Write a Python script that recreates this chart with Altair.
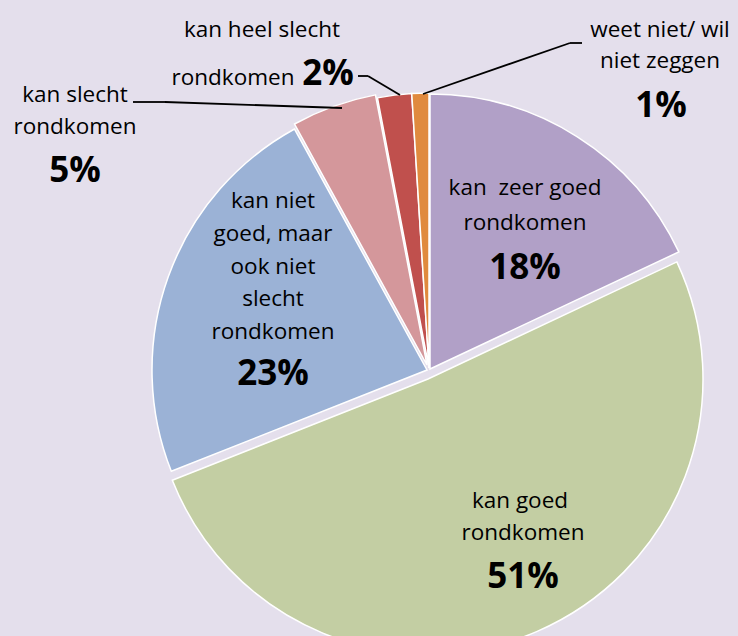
import altair as alt
import pandas as pd

# ---- data ----
categories = [
    "kan zeer goed rondkomen",
    "kan goed rondkomen",
    "kan niet goed, maar ook niet slecht rondkomen",
    "kan slecht rondkomen",
    "kan heel slecht rondkomen",
    "weet niet/ wil niet zeggen",
]
values = [18, 51, 23, 5, 2, 1]
label_lines = [
    ["kan\u00a0 zeer goed", "rondkomen"],
    ["kan goed", "rondkomen"],
    ["kan niet", "goed, maar", "ook niet", "slecht", "rondkomen"],
    ["kan slecht", "rondkomen"],
    ["kan heel slecht", "rondkomen"],
    ["weet niet/ wil", "niet zeggen"],
]

# ---- styling / layout ----
colors = ["#B1A0C7", "#C3CEA3", "#9BB2D6", "#D4979B", "#C0504D", "#E08A3E"]
slice_cx = [430, 428, 427, 427, 429, 429]
slice_cy = [369, 379, 370, 365, 368, 368]
RADIUS = 275

# (category index, line index, x, baseline y)
line_layout = [
    (0, 0, 525, 195), (0, 1, 525, 230),
    (1, 0, 520, 508), (1, 1, 523, 540),
    (2, 0, 273, 208), (2, 1, 273, 241), (2, 2, 273, 274), (2, 3, 273, 306), (2, 4, 273, 339),
    (3, 0, 75, 102), (3, 1, 75, 134),
    (4, 0, 262, 37), (4, 1, 233, 85),
    (5, 0, 660, 37), (5, 1, 660, 68),
]
pct_layout = [(525, 279), (523, 588), (273, 385), (75, 182), (328, 85), (661, 117)]
leader_segments = [
    (358, 76, 368, 76), (368, 76, 400, 95),
    (582, 43, 570, 43), (570, 43, 423, 94),
    (133, 102, 165, 102), (165, 102, 342, 108),
]

pie_df = pd.DataFrame({
    "category": categories,
    "value": values,
    "order": list(range(len(values))),
    "cx": slice_cx,
    "cy": slice_cy,
})

reg_df = pd.DataFrame([
    {"text": label_lines[c][l], "x": x, "y": y} for (c, l, x, y) in line_layout
])
pct_df = pd.DataFrame([
    {"text": f"{values[i]}%", "x": pct_layout[i][0], "y": pct_layout[i][1]}
    for i in range(len(values))
])
seg_df = pd.DataFrame(leader_segments, columns=["x", "y", "x2", "y2"])

theta_scale = alt.Scale(domain=[0, 100], range=[0, 6.283185307179586])

pie = alt.Chart(pie_df).transform_window(
    cum="sum(value)", sort=[alt.SortField("order")], frame=[None, 0]
).transform_calculate(
    start="datum.cum - datum.value"
).mark_arc(radius=RADIUS, stroke="white", strokeWidth=1.5).encode(
    theta=alt.Theta("start:Q", scale=theta_scale, stack=None),
    theta2="cum:Q",
    x=alt.X("cx:Q", scale=None, axis=None),
    y=alt.Y("cy:Q", scale=None, axis=None),
    color=alt.Color("category:N", scale=alt.Scale(domain=categories, range=colors), legend=None),
)

leaders = alt.Chart(seg_df).mark_rule(color="black", strokeWidth=1.8).encode(
    x=alt.X("x:Q", scale=None, axis=None),
    y=alt.Y("y:Q", scale=None, axis=None),
    x2="x2:Q",
    y2="y2:Q",
)

texts = alt.Chart(reg_df).mark_text(
    font="Open Sans", fontSize=22.5, baseline="alphabetic", align="center", color="black"
).encode(
    x=alt.X("x:Q", scale=None, axis=None),
    y=alt.Y("y:Q", scale=None, axis=None),
    text="text:N",
)

pcts = alt.Chart(pct_df).mark_text(
    font="Open Sans", fontSize=35, fontWeight="bold", baseline="alphabetic", align="center", color="black"
).encode(
    x=alt.X("x:Q", scale=None, axis=None),
    y=alt.Y("y:Q", scale=None, axis=None),
    text="text:N",
)

chart = alt.layer(pie, leaders, texts, pcts).properties(
    width=738, height=636, background="#E4DFEC", padding=0,
    autosize=alt.AutoSizeParams(type="none"),
).configure_view(stroke=None)

chart.save("out.html", embed_options={"renderer": "svg", "actions": False})
